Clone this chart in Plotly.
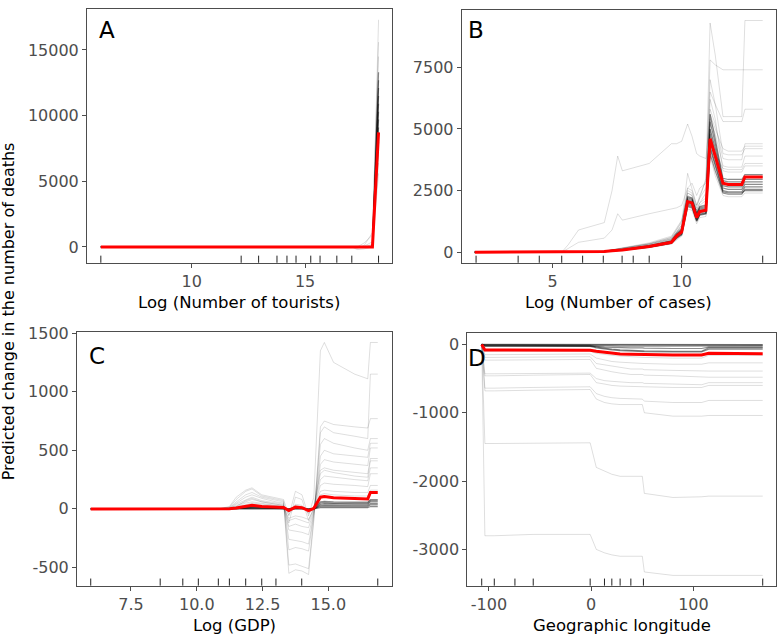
import plotly.graph_objects as go

W, H = 777, 636

# ---------------- Panel A : Log (Number of tourists) ----------------
a_x = [5.99, 12.18, 13.76, 15.25, 16.4, 17.06, 17.3, 17.6, 17.97, 18.24]
a_mean = [0, 0, 0, 0, 0, 0, 0, 0, 0, 8720]
a_light = [
    [0, 0, 0, 0, 0, 0, -200, -150, 0, 17300],
    [0, 0, 0, 0, 0, 0, 0, 300, 900, 15600],
    [0, 0, 0, 0, 0, 0, -100, 100, 1100, 14500],
    [0, 0, 0, 0, 0, 0, 0, 50, 400, 7200],
    [0, 0, 0, 0, 0, 0, 0, 0, 200, 6400],
    [0, 0, 0, 0, 0, 0, 0, 0, 100, 5600],
]
a_dark = [
    [0, 0, 0, 0, 0, 0, 0, 0, 0, 13300],
    [0, 0, 0, 0, 0, 0, 0, 0, 0, 12700],
    [0, 0, 0, 0, 0, 0, 0, 0, 0, 12100],
    [0, 0, 0, 0, 0, 0, 0, 0, 0, 11500],
    [0, 0, 0, 0, 0, 0, 0, 0, 0, 10900],
    [0, 0, 0, 0, 0, 0, 0, 0, 0, 10300],
    [0, 0, 0, 0, 0, 0, 0, 0, 0, 9700],
    [0, 0, 0, 0, 0, 0, 0, 0, 0, 9100],
    [0, 0, 0, 0, 0, 0, 0, 0, 0, 8000],
]
a_rug = [5.99, 12.18, 12.95, 13.76, 14.2, 14.6, 15.25, 15.66, 16.4, 17.06, 18.24]
a_xticks = [10, 15]
a_xticklabels = ["10", "15"]
a_yticks = [0, 5000, 10000, 15000]
a_yticklabels = ["0", "5000", "10000", "15000"]

# ---------------- Panel B : Log (Number of cases) ----------------
b_x = [1.98, 5.35, 5.6, 6.0, 7.0, 7.3, 7.52, 7.7, 8.74, 9.6, 9.8, 10.0,
       10.23, 10.4, 10.58, 10.7, 10.94, 11.1, 11.3, 11.6, 11.8, 12.33, 12.45, 13.14]
b_mean = [0, 0, 0, 5, 25, 60, 80, 90, 230, 400, 650, 820,
          2050, 2000, 1400, 1650, 1700, 4600, 3900, 2800, 2750, 2750, 3050, 3050]
b_light = [
    [0, 0, 0, 10, 40, 90, 120, 140, 330, 550, 850, 1100, 2600, 2500, 1900, 2200, 3000, 9300, 8000, 5500, 5500, 5500, 9400, 9400],
    [0, 0, 0, 10, 40, 90, 120, 140, 330, 550, 850, 1100, 2500, 2400, 1800, 2200, 2600, 7800, 7600, 7400, 7400, 7400, 7400, 7400],
    [0, 0, 0, 8, 35, 80, 110, 130, 300, 520, 800, 1050, 2400, 2300, 1700, 2000, 2400, 6500, 6000, 5300, 5300, 5300, 5800, 5800],
    [0, 0, 300, 900, 1200, 2500, 3900, 3300, 3600, 4400, 4400, 4500, 5200, 4700, 4000, 3900, 3800, 5600, 5000, 4200, 4100, 4100, 4300, 4300],
    [0, 0, 150, 400, 570, 900, 1560, 1300, 1560, 1760, 1800, 1900, 2600, 2800, 2300, 2600, 2800, 5000, 4000, 3400, 3350, 3350, 3600, 3600],
    [0, 0, 0, 10, 40, 90, 130, 150, 350, 600, 900, 1200, 3200, 2600, 1900, 2300, 2900, 7000, 6000, 4000, 3950, 3950, 4200, 4200],
    [0, 0, 0, 2, 15, 40, 60, 70, 180, 330, 500, 650, 1750, 1700, 1150, 1400, 1450, 3900, 3100, 2300, 2250, 2250, 2400, 2400],
    [0, 0, 0, 10, 40, 100, 140, 160, 380, 650, 1000, 1300, 2400, 2300, 1700, 2000, 2200, 5800, 5200, 3800, 3750, 3750, 4400, 4400],
    [0, 0, 0, 8, 35, 90, 120, 140, 340, 600, 950, 1250, 2300, 2200, 1600, 1900, 2100, 5400, 4800, 3500, 3450, 3450, 3900, 3900],
    [0, 0, 0, 6, 30, 70, 100, 120, 300, 520, 800, 1000, 2250, 2150, 1550, 1850, 1950, 6200, 5400, 3300, 3250, 3250, 3500, 3500],
]
b_dark = [
    [0, 0, 0, 3, 20, 50, 70, 80, 200, 350, 550, 700, 1850, 1800, 1250, 1500, 1550, 4000, 3300, 2400, 2350, 2350, 2550, 2550],
    [0, 0, 0, 4, 22, 55, 75, 85, 210, 370, 600, 750, 1950, 1900, 1300, 1550, 1600, 4300, 3600, 2500, 2450, 2450, 2650, 2650],
    [0, 0, 0, 5, 25, 60, 80, 90, 220, 390, 630, 800, 2000, 1950, 1350, 1600, 1650, 4500, 3800, 2600, 2550, 2550, 2750, 2750],
    [0, 0, 0, 5, 25, 60, 80, 95, 240, 410, 660, 830, 2100, 2050, 1450, 1700, 1750, 4800, 4000, 2700, 2650, 2650, 2850, 2850],
    [0, 0, 0, 6, 28, 65, 85, 100, 250, 430, 700, 870, 2150, 2100, 1500, 1750, 1800, 5000, 4200, 2800, 2750, 2750, 2950, 2950],
    [0, 0, 0, 6, 30, 70, 90, 105, 260, 450, 720, 900, 2200, 2150, 1550, 1800, 1850, 5300, 4400, 2900, 2850, 2850, 3050, 3050],
    [0, 0, 0, 7, 30, 70, 95, 110, 270, 470, 750, 950, 2250, 2200, 1600, 1850, 1900, 5600, 4600, 3000, 2950, 2950, 3150, 3150],
    [0, 0, 0, 4, 20, 55, 72, 82, 205, 360, 580, 730, 1900, 1850, 1280, 1520, 1580, 4200, 3500, 2450, 2400, 2400, 2500, 2500],
]
b_rug = [2.03, 3.66, 4.48, 5.35, 6.16, 6.96, 7.69, 8.12, 8.74, 10.0, 13.14]
b_xticks = [5, 10]
b_xticklabels = ["5", "10"]
b_yticks = [0, 2500, 5000, 7500]
b_yticklabels = ["0", "2500", "5000", "7500"]

# ---------------- Panel C : Log (GDP) ----------------
c_x = [5.97, 8.61, 10.06, 10.82, 11.24, 11.5, 11.86, 12.1, 12.47, 13.01, 13.3, 13.5,
       13.75, 14.0, 14.25, 14.45, 14.7, 14.85, 15.2, 16.0, 16.5, 16.6, 16.88]
c_mean = [0, 0, 0, 0, 2, 8, 22, 30, 20, 15, 12, -15, 15, 10, -15, 5, 100, 105, 95, 88, 85, 140, 140]
c_light = [
    [0, 0, 0, 0, 20, 100, 160, 180, 120, 90, 80, -60, 150, 120, -60, 100, 1350, 1420, 1250, 1150, 1110, 1420, 1420],
    [0, 0, 0, 0, 15, 80, 150, 170, 110, 80, 70, -550, -520, -530, -560, -100, 700, 750, 720, 700, 690, 770, 770],
    [0, 0, 0, 0, 10, 60, 120, 140, 100, 70, 60, -480, -470, -490, -510, -80, 650, 700, 650, 620, 600, 1150, 1150],
    [0, 0, 0, 0, 10, 50, 100, 120, 90, 60, 50, -350, -330, -340, -360, -50, 550, 600, 560, 520, 500, 600, 600],
    [0, 0, 0, 0, 5, 40, 80, 100, 70, 50, 40, -260, -270, -280, -300, -40, 450, 500, 470, 450, 440, 560, 560],
    [0, 0, 0, 0, 5, 30, 60, 80, 60, 40, 30, -180, -190, -200, -220, -30, 380, 420, 400, 380, 370, 520, 520],
    [0, 0, 0, 0, 5, 20, 50, 60, 50, 30, 20, -150, -130, -150, -160, -20, 330, 350, 330, 310, 300, 430, 430],
    [0, 0, 0, 0, 3, 15, 40, 50, 40, 25, 20, -100, -80, -100, -120, -10, 250, 280, 270, 250, 240, 350, 350],
    [0, 0, 0, 0, 2, 10, 30, 40, 30, 20, 15, -80, -60, -70, -90, 0, 200, 220, 210, 200, 190, 300, 300],
    [0, 0, 0, 0, 2, 10, 25, 35, 25, 15, 10, -50, 30, 20, -40, 0, 150, 160, 150, 140, 140, 200, 200],
    [0, 0, 0, 0, 3, 20, 70, 90, 60, 40, 30, -120, 100, 80, -100, 10, 300, 330, 310, 280, 270, 410, 410],
    [0, 0, 0, 0, 1, 5, 15, 20, 15, 10, 8, -30, 40, 30, -30, 0, 120, 130, 120, 110, 110, 160, 160],
]
c_dark = [
    [0, 0, 0, 0, 0, 3, 8, 10, 8, 5, 5, -5, 10, 5, -5, 0, 40, 45, 42, 40, 40, 60, 60],
    [0, 0, 0, 0, 0, 2, 5, 8, 6, 4, 3, -10, 5, 3, -10, 0, 30, 32, 30, 30, 30, 45, 45],
    [0, 0, 0, 0, 0, 1, 3, 5, 4, 3, 2, -3, 3, 2, -5, 0, 20, 22, 20, 20, 20, 35, 35],
    [0, 0, 0, 0, 0, 4, 10, 15, 12, 8, 6, 0, 15, 10, 0, 5, 50, 55, 50, 50, 50, 70, 70],
    [0, 0, 0, 0, 0, 0, 2, 3, 2, 1, 1, -2, 2, 1, -2, 0, 10, 12, 10, 10, 10, 20, 20],
    [0, 0, 0, 0, 0, 5, 12, 18, 14, 10, 8, -8, 18, 12, -8, 5, 60, 65, 60, 58, 58, 80, 80],
]
c_rug = [5.97, 8.61, 9.47, 10.06, 10.82, 11.24, 11.86, 12.47, 13.01, 13.99, 16.88]
c_xticks = [7.5, 10.0, 12.5, 15.0]
c_xticklabels = ["7.5", "10.0", "12.5", "15.0"]
c_yticks = [-500, 0, 500, 1000, 1500]
c_yticklabels = ["-500", "0", "500", "1000", "1500"]

# ---------------- Panel D : Geographic longitude ----------------
d_x = [-107.1, -104, -94.8, -74.6, -56.7, -1.0, 5, 13.0, 20.2, 28.3, 38.8, 50, 52, 80, 108, 115, 167.8]
d_mean = [0, -80, -80, -80, -80, -85, -100, -115, -130, -140, -145, -150, -150, -155, -155, -130, -135]
d_light = [
    [0, -2800, -2800, -2790, -2780, -2780, -3000, -3050, -3080, -3100, -3100, -3100, -3330, -3380, -3380, -3380, -3380],
    [0, -1450, -1450, -1450, -1440, -1440, -1800, -1850, -1900, -1930, -1930, -1930, -2180, -2240, -2230, -2220, -2220],
    [0, -680, -680, -670, -670, -660, -800, -850, -870, -880, -880, -880, -1000, -1050, -1050, -1040, -1040],
    [0, -640, -640, -640, -630, -620, -720, -760, -780, -790, -800, -800, -830, -850, -850, -820, -820],
    [0, -460, -460, -460, -450, -440, -560, -580, -600, -610, -610, -610, -620, -630, -630, -600, -600],
    [0, -430, -430, -430, -420, -420, -500, -530, -540, -550, -560, -560, -570, -580, -590, -560, -560],
    [0, -230, -230, -230, -230, -220, -350, -380, -400, -420, -440, -440, -450, -460, -470, -480, -480],
    [0, -190, -190, -190, -190, -180, -280, -300, -320, -340, -360, -360, -370, -380, -390, -390, -390],
    [0, -150, -150, -150, -150, -140, -200, -230, -250, -260, -270, -270, -280, -290, -290, -270, -270],
    [0, -100, -100, -100, -100, -100, -130, -150, -160, -170, -180, -180, -190, -200, -200, -160, -160],
]
d_dark = [
    [0, -10, -10, -10, -10, -10, -15, -20, -20, -25, -25, -25, -25, -30, -30, -20, -20],
    [0, -20, -20, -20, -20, -20, -30, -40, -45, -50, -50, -50, -55, -60, -60, -40, -40],
    [0, -5, -5, -5, -5, -5, -8, -10, -10, -12, -12, -12, -12, -15, -15, -10, -10],
    [0, 0, 0, 0, 0, 0, -2, -3, -3, -4, -4, -4, -4, -5, -5, -3, -3],
    [0, -30, -30, -30, -30, -30, -50, -70, -80, -90, -100, -100, -105, -110, -110, -70, -70],
    [0, -15, -15, -15, -15, -15, -40, -60, -70, -80, -90, -90, -95, -100, -100, -50, -50],
]
d_rug = [-107.1, -94.8, -74.6, -56.7, -1.0, 13.0, 20.2, 28.3, 38.8, 51.1, 167.8]
d_xticks = [-100, 0, 100]
d_xticklabels = ["-100", "0", "100"]
d_yticks = [-3000, -2000, -1000, 0]
d_yticklabels = ["-3000", "-2000", "-1000", "0"]

titles = ["Log (Number of tourists)", "Log (Number of cases)", "Log (GDP)", "Geographic longitude"]
letters = ["A", "B", "C", "D"]
y_title = "Predicted change in the number of deaths"

# ---------------- layout geometry (pixels) ----------------
def px_x(p):
    return p / W

def px_y(p):
    return 1 - p / H

panels = [
    dict(x=a_x, mean=a_mean, light=a_light, dark=a_dark, rug=a_rug,
         xt=a_xticks, xl=a_xticklabels, yt=a_yticks, yl=a_yticklabels,
         box=(87, 391.7, 1, 258), xr=[5.38, 18.82], yr=[-1203, 18120],
         letter=(106.7, 22)),
    dict(x=b_x, mean=b_mean, light=b_light, dark=b_dark, rug=b_rug,
         xt=b_xticks, xl=b_xticklabels, yt=b_yticks, yl=b_yticklabels,
         box=(461.7, 776, 2, 258), xr=[1.473, 13.655], yr=[-429, 9827],
         letter=(476, 22)),
    dict(x=c_x, mean=c_mean, light=c_light, dark=c_dark, rug=c_rug,
         xt=c_xticks, xl=c_xticklabels, yt=c_yticks, yl=c_yticklabels,
         box=(77, 391.7, 328.3, 585), xr=[5.448, 17.41], yr=[-655, 1508],
         letter=(96.7, 352)),
    dict(x=d_x, mean=d_mean, light=d_light, dark=d_dark, rug=d_rug,
         xt=d_xticks, xl=d_xticklabels, yt=d_yticks, yl=d_yticklabels,
         box=(467.3, 776, 329, 585), xr=[-121.2, 180.8], yr=[-3530, 169],
         letter=(477.5, 354)),
]

FONT = "DejaVu Sans"
fig = go.Figure()
layout = dict(
    width=W, height=H, margin=dict(l=0, r=0, t=0, b=0),
    paper_bgcolor="white", plot_bgcolor="white", showlegend=False,
    font=dict(family=FONT, size=16, color="#4d4d4d"),
)
shapes = []
annotations = []

for i, p in enumerate(panels):
    n = "" if i == 0 else str(i + 1)
    xa, ya = "x" + n, "y" + n
    for curve in p["light"]:
        fig.add_trace(go.Scatter(x=p["x"], y=curve, mode="lines", xaxis=xa, yaxis=ya,
                                 line=dict(color="rgba(0,0,0,0.13)", width=1), hoverinfo="skip"))
    for curve in p["dark"]:
        fig.add_trace(go.Scatter(x=p["x"], y=curve, mode="lines", xaxis=xa, yaxis=ya,
                                 line=dict(color="rgba(0,0,0,0.45)", width=1.2), hoverinfo="skip"))
    fig.add_trace(go.Scatter(x=p["x"], y=p["mean"], mode="lines", xaxis=xa, yaxis=ya,
                             line=dict(color="#ff0000", width=3)))

    l, r, t, b = p["box"]
    axis_common = dict(showline=True, linecolor="#4d4d4d", linewidth=1, mirror=True,
                       ticks="outside", ticklen=4, tickcolor="#4d4d4d", showgrid=False,
                       zeroline=False, tickfont=dict(family=FONT, size=16, color="#4d4d4d"),
                       fixedrange=True)
    layout["xaxis" + n] = dict(axis_common, domain=[px_x(l), px_x(r)], anchor=ya, range=p["xr"],
                               tickmode="array", tickvals=p["xt"], ticktext=p["xl"])
    layout["yaxis" + n] = dict(axis_common, domain=[px_y(b), px_y(t)], anchor=xa, range=p["yr"],
                               tickmode="array", tickvals=p["yt"], ticktext=p["yl"])

    for v in p["rug"]:
        shapes.append(dict(type="line", xref=xa, yref=ya + " domain", x0=v, x1=v, y0=0, y1=0.028,
                           line=dict(color="#222222", width=1)))

    annotations.append(dict(text=letters[i], x=px_x(p["letter"][0]), y=px_y(p["letter"][1]),
                            xref="paper", yref="paper", showarrow=False, xanchor="center",
                            yanchor="middle", font=dict(family=FONT, size=23, color="black")))
    annotations.append(dict(text=titles[i], x=px_x((l + r) / 2), y=px_y(b + 40),
                            xref="paper", yref="paper", showarrow=False, xanchor="center",
                            yanchor="middle", font=dict(family=FONT, size=16.5, color="black")))

annotations.append(dict(text=y_title, x=px_x(8.5), y=px_y(307.7), xref="paper", yref="paper",
                        showarrow=False, textangle=-90, xanchor="center", yanchor="middle",
                        font=dict(family=FONT, size=16, color="black")))

layout["shapes"] = shapes
layout["annotations"] = annotations
fig.update_layout(**layout)
fig.write_html(
    "out.html",
    config={"displayModeBar": False, "responsive": False},
    post_script="document.body.style.margin='0';document.body.style.padding='0';"
                "document.body.style.overflow='hidden';",
)
